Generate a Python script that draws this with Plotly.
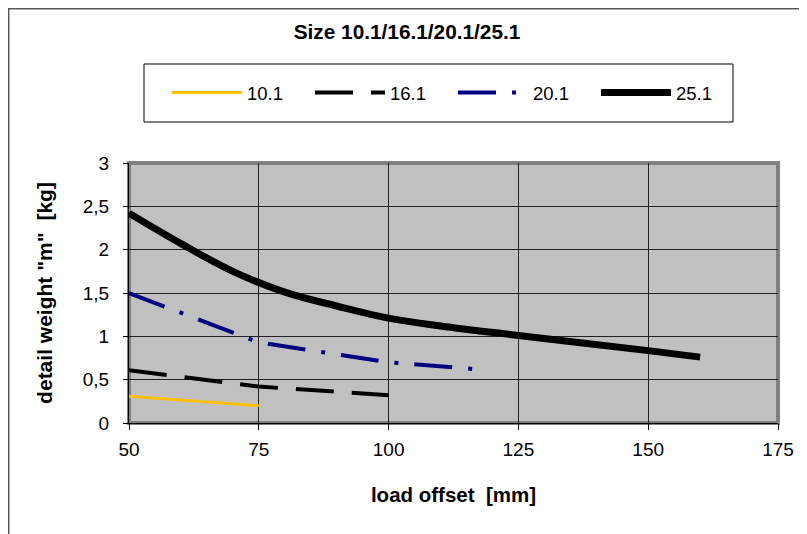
import plotly.graph_objects as go

# ---- data ----
x_101 = [50, 75]
y_101 = [0.31, 0.20]

x_161 = [50, 75, 100]
y_161 = [0.61, 0.42, 0.32]

x_201 = [50, 75, 100, 117]
y_201 = [1.50, 0.93, 0.70, 0.62]

x_251 = [50, 60, 70, 80, 90, 100, 110, 125, 150, 160]
y_251 = [2.42, 2.07, 1.75, 1.51, 1.35, 1.21, 1.12, 1.01, 0.835, 0.76]

series_names = ["10.1", "16.1", "20.1", "25.1"]
x_ticks = [50, 75, 100, 125, 150, 175]
y_ticks = [0, 0.5, 1, 1.5, 2, 2.5, 3]

FONT = "Liberation Sans, Arial, sans-serif"
OFF = 8  # page body margin
W, H = 807 - OFF, 534 - OFF
ML, MT = 129 - OFF, 163 - OFF
PW, PH = 649, 260
MR, MB = W - ML - PW, H - MT - PH


def px_x(p):  # page pixel -> paper
    return (p - OFF - ML) / PW


def px_y(p):
    return 1 + (MT - (p - OFF)) / PH


fig = go.Figure()
fig.add_trace(go.Scatter(x=x_101, y=y_101, mode="lines", name=series_names[0],
                         line=dict(color="#FFC000", width=3)))
fig.add_trace(go.Scatter(x=x_161, y=y_161, mode="lines", name=series_names[1],
                         line=dict(color="#000000", width=4, dash="38px,18px")))
fig.add_trace(go.Scatter(x=x_201, y=y_201, mode="lines", name=series_names[2],
                         line=dict(color="#000080", width=4, dash="38px,16px,4px,16px")))
fig.add_trace(go.Scatter(x=x_251, y=y_251, mode="lines", name=series_names[3],
                         line=dict(color="#000000", width=7, shape="spline", smoothing=1)))

shapes = [
    dict(type="rect", xref="paper", yref="paper", x0=0, x1=1, y0=0, y1=1,
         line=dict(color="#808080", width=4), layer="below"),
    dict(type="rect", xref="paper", yref="paper", x0=px_x(8.7), x1=px_x(840),
         y0=px_y(580), y1=px_y(8.7), line=dict(color="#555555", width=1.5), layer="below"),
    dict(type="rect", xref="paper", yref="paper", x0=px_x(144), x1=px_x(733),
         y0=px_y(122), y1=px_y(64), line=dict(color="#000000", width=1), layer="below"),
]

fig.update_layout(
    width=W, height=H,
    margin=dict(l=ML, r=MR, t=MT, b=MB, pad=0),
    paper_bgcolor="white",
    plot_bgcolor="#C0C0C0",
    separators=",.",
    font=dict(family=FONT, size=18, color="black"),
    title=dict(text="Size 10.1/16.1/20.1/25.1", xref="container", yref="container",
               x=(407 - OFF) / W, y=1 - (32 - OFF) / H, xanchor="center", yanchor="middle",
               font=dict(family=FONT, size=20.8, color="black", weight="bold")),
    showlegend=True,
    legend=dict(orientation="h", xref="container", yref="container",
                x=(167 - OFF) / W, y=1 - (93 - OFF) / H, xanchor="left", yanchor="middle",
                entrywidth=58, entrywidthmode="pixels", itemwidth=70,
                bgcolor="rgba(0,0,0,0)", borderwidth=0,
                font=dict(family=FONT, size=18.5, color="black")),
    shapes=shapes,
    xaxis=dict(range=[50, 175], tickvals=x_ticks, showgrid=True, gridcolor="#222222",
               gridwidth=1, zeroline=False, showline=True, linecolor="black", linewidth=1,
               ticks="outside", ticklen=6, tickcolor="black", ticklabelstandoff=3,
               tickfont=dict(family=FONT, size=19),
               title=dict(text="load offset\u00a0 [mm]", standoff=28,
                          font=dict(family=FONT, size=20.5, weight="bold"))),
    yaxis=dict(range=[0, 3], tickvals=y_ticks, showgrid=True, gridcolor="#222222",
               gridwidth=1, zeroline=False, showline=True, linecolor="black", linewidth=1,
               ticks="outside", ticklen=5, tickcolor="black", ticklabelstandoff=10,
               tickfont=dict(family=FONT, size=19),
               title=dict(text="detail weight \"m\"\u00a0 [kg]", standoff=24,
                          font=dict(family=FONT, size=21, weight="bold"))),
)

fig.write_html("out.html")
